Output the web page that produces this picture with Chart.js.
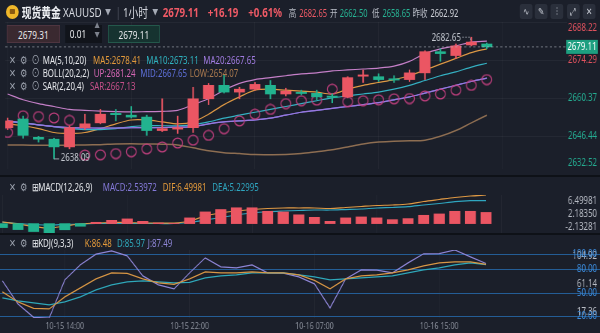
<!DOCTYPE html>
<html>
<head>
<meta charset="utf-8">
<script src="https://cdn.jsdelivr.net/npm/chart.js@4"></script>
<style>
html, body { margin: 0; padding: 0; background: #1b1f2a; width: 600px; height: 333px; overflow: hidden; }
#wrap { position: absolute; left: 0; top: 0; width: 800px; height: 333px; transform: scaleX(0.75); transform-origin: 0 0;
        font-family: "Noto Sans", "Noto Sans CJK SC", sans-serif; color: #c9ccd3; }
canvas { position: absolute; left: 0; }
.t { position: absolute; white-space: nowrap; line-height: 16px; }
.lg { position: absolute; white-space: nowrap; line-height: 14px; font-size: 10.5px; }
.ic { color: #9aa0ac; font-size: 11px; }
.sep { position: absolute; left: 0; width: 800px; height: 2px; background: #0e1117; }
.btn { position: absolute; top: 4px; width: 17px; height: 15px; background: #2a2f3b; border-radius: 3px;
       color: #c5c9d2; font-size: 10px; line-height: 15px; text-align: center; }
.box { position: absolute; top: 25px; height: 18px; line-height: 18px; font-size: 11px; color: #e6e7ea; box-sizing: border-box; }
</style>
</head>
<body>
<div id="wrap">
  <canvas id="main" width="800" height="176" style="top:0"></canvas>
  <canvas id="macd" width="800" height="58" style="top:176px"></canvas>
  <canvas id="kdj" width="800" height="99" style="top:234px"></canvas>
  <div class="sep" style="top:175px"></div>
  <div class="sep" style="top:233px"></div>

  <!-- header row -->
  <div style="position:absolute;left:8px;top:5px;width:17px;height:14px;border-radius:50%;background:#efb72a"></div>
  <div style="position:absolute;left:13px;top:9px;width:7px;height:5px;border-radius:1px;background:#8a5a10"></div>
  <span class="t" style="left:29px;top:4px;font-size:13px;font-weight:600;color:#eef0f4">现货黄金</span>
  <span class="t" style="left:84px;top:4px;font-size:13px;color:#d5d8df">XAUUSD</span>
  <span class="t" style="left:140px;top:4px;font-size:8px;color:#a5aab5">▼</span>
  <span class="t" style="left:154px;top:4px;font-size:13px;color:#4a4f5c">|</span>
  <span class="t" style="left:164px;top:4px;font-size:13px;color:#d5d8df">1小时</span>
  <span class="t" style="left:203px;top:4px;font-size:8px;color:#a5aab5">▼</span>
  <span class="t" style="left:217px;top:4px;font-size:13px;font-weight:700;color:#ef5a66">2679.11</span>
  <span class="t" style="left:277px;top:4px;font-size:13px;font-weight:700;color:#ef5a66">+16.19</span>
  <span class="t" style="left:331px;top:4px;font-size:13px;font-weight:700;color:#ef5a66">+0.61%</span>
  <span class="t" style="left:385px;top:5px;font-size:10px;color:#b8bcc6">高</span>
  <span class="t" style="left:399px;top:5px;font-size:10px;color:#ef5a66">2682.65</span>
  <span class="t" style="left:440px;top:5px;font-size:10px;color:#b8bcc6">开</span>
  <span class="t" style="left:453px;top:5px;font-size:10px;color:#27b494">2662.50</span>
  <span class="t" style="left:496px;top:5px;font-size:10px;color:#b8bcc6">低</span>
  <span class="t" style="left:510px;top:5px;font-size:10px;color:#27b494">2658.65</span>
  <span class="t" style="left:550px;top:5px;font-size:10px;color:#b8bcc6">昨收</span>
  <span class="t" style="left:574px;top:5px;font-size:10px;color:#d0d3da">2662.92</span>
  <div class="btn" style="left:693px">∿</div>
  <div class="btn" style="left:713px">✎</div>
  <div class="btn" style="left:734px">⫶</div>
  <div class="btn" style="left:756px">⤢</div>
  <div class="btn" style="left:777px">✕</div>

  <!-- order boxes -->
  <div class="box" style="left:9px;width:71px;background:#3a2930;border:1px solid #4e3540;text-align:center">2679.31</div>
  <div class="box" style="left:87px;width:49px;background:#11141b;padding-left:6px">0.01<span style="position:absolute;right:3px;top:-4px;font-size:7px;color:#7d828d;line-height:9px">▲<br>▼</span></div>
  <div class="box" style="left:144px;width:69px;background:#163330;border:1px solid #24584b;text-align:center">2679.11</div>

  <!-- main legends -->
  <span class="lg ic" style="left:12px;top:53px">✕</span><span class="lg ic" style="left:27px;top:53px">⚙</span><span class="lg ic" style="left:42px;top:53px">⊙</span>
  <span class="lg" style="left:57px;top:53px;color:#e4e6ea">MA(5,10,20)</span>
  <span class="lg" style="left:124px;top:53px;color:#e39a3b">MA5:2678.41</span>
  <span class="lg" style="left:195px;top:53px;color:#2fb3c0">MA10:2673.11</span>
  <span class="lg" style="left:271px;top:53px;color:#a07be0">MA20:2667.65</span>

  <span class="lg ic" style="left:12px;top:66px">✕</span><span class="lg ic" style="left:27px;top:66px">⚙</span><span class="lg ic" style="left:42px;top:66px">⊙</span>
  <span class="lg" style="left:57px;top:66px;color:#e4e6ea">BOLL(20,2,2)</span>
  <span class="lg" style="left:125px;top:66px;color:#d667b5">UP:2681.24</span>
  <span class="lg" style="left:187px;top:66px;color:#5d6fd8">MID:2667.65</span>
  <span class="lg" style="left:253px;top:66px;color:#a8784e">LOW:2654.07</span>

  <span class="lg ic" style="left:12px;top:79px">✕</span><span class="lg ic" style="left:27px;top:79px">⚙</span><span class="lg ic" style="left:42px;top:79px">⊙</span>
  <span class="lg" style="left:57px;top:79px;color:#e4e6ea">SAR(2,20,4)</span>
  <span class="lg" style="left:120px;top:79px;color:#c7508a">SAR:2667.13</span>

  <!-- MACD legend -->
  <span class="lg ic" style="left:12px;top:180px">✕</span><span class="lg ic" style="left:27px;top:180px">⚙</span>
  <span class="lg" style="left:42px;top:180px;color:#e4e6ea">⊞MACD(12,26,9)</span>
  <span class="lg" style="left:137px;top:180px;color:#8479d8">MACD:2.53972</span>
  <span class="lg" style="left:217px;top:180px;color:#e39a3b">DIF:6.49981</span>
  <span class="lg" style="left:283px;top:180px;color:#2fa6c0">DEA:5.22995</span>

  <!-- KDJ legend -->
  <span class="lg ic" style="left:12px;top:236px">✕</span><span class="lg ic" style="left:27px;top:236px">⚙</span>
  <span class="lg" style="left:42px;top:236px;color:#e4e6ea">⊞KDJ(9,3,3)</span>
  <span class="lg" style="left:113px;top:236px;color:#e39a3b">K:86.48</span>
  <span class="lg" style="left:156px;top:236px;color:#2fa8ba">D:85.97</span>
  <span class="lg" style="left:197px;top:236px;color:#8f86d8">J:87.49</span>
</div>

<script>
// hourly candles, 10-15 10:00 .. 10-16 18:00 (05:00 is the daily break)
const times = ['10-15 10:00','10-15 11:00','10-15 12:00','10-15 13:00','10-15 14:00','10-15 15:00','10-15 16:00','10-15 17:00',
               '10-15 18:00','10-15 19:00','10-15 20:00','10-15 21:00','10-15 22:00','10-15 23:00','10-16 00:00','10-16 01:00',
               '10-16 02:00','10-16 03:00','10-16 04:00','10-16 06:00','10-16 07:00','10-16 08:00','10-16 09:00','10-16 10:00',
               '10-16 11:00','10-16 12:00','10-16 13:00','10-16 14:00','10-16 15:00','10-16 16:00','10-16 17:00','10-16 18:00'];
const opens  = [2649.53,2652.70,2646.01,2645.31,2642.49,2649.53,2651.29,2654.64,2654.11,2653.41,2648.48,2649.00,2649.53,2660.10,2665.03,2662.56,
                2663.62,2665.03,2661.86,2662.50,2662.10,2660.98,2660.80,2668.37,2668.19,2667.31,2667.14,2669.60,2677.35,2675.94,2679.81,2680.17];
const highs  = [2653.05,2653.76,2646.36,2645.66,2650.24,2654.46,2656.22,2656.22,2657.28,2654.11,2660.10,2653.76,2664.32,2665.73,2668.90,2664.32,
                2666.08,2666.79,2663.97,2663.26,2663.26,2661.86,2668.19,2670.66,2669.25,2668.55,2670.66,2677.70,2678.41,2680.17,2682.65,2680.52];
const lows   = [2648.83,2645.66,2644.25,2638.09,2641.79,2648.83,2650.94,2652.00,2653.05,2646.72,2648.12,2647.42,2647.77,2657.98,2662.21,2660.10,
                2663.26,2660.10,2661.15,2661.50,2659.74,2658.65,2660.45,2666.08,2666.43,2666.08,2666.43,2667.14,2673.83,2674.88,2679.46,2678.41];
const closes = [2652.00,2646.72,2645.31,2642.49,2649.53,2650.94,2654.46,2654.29,2653.41,2648.48,2649.18,2649.53,2660.10,2665.03,2662.56,2663.62,
                2665.38,2661.86,2662.92,2662.03,2660.80,2660.62,2667.84,2668.72,2667.14,2666.96,2669.60,2677.35,2676.65,2679.46,2680.87,2679.11];
const prevClose = 2662.92;

const ma5  = [2650.94,2650.24,2649.18,2647.77,2647.42,2647.77,2649.18,2650.94,2652.35,2652.35,2651.65,2650.94,2651.65,2654.46,2657.98,2660.80,
              2663.26,2663.62,2663.26,2662.91,2662.56,2661.86,2663.62,2665.03,2666.08,2667.14,2668.55,2670.66,2672.77,2674.88,2677.00,2678.41];
const ma10 = [2651.65,2651.29,2650.59,2649.89,2649.18,2648.83,2648.83,2649.18,2649.89,2650.24,2650.24,2650.24,2650.59,2651.65,2653.05,2654.11,
              2655.17,2656.22,2657.28,2658.34,2659.39,2660.45,2661.15,2661.86,2662.56,2663.62,2665.03,2666.79,2668.55,2669.95,2671.72,2673.11];
// MA20 and the BOLL middle band are the same line (both 2667.65 at the end)
const ma20 = [2652.00,2651.29,2650.59,2649.89,2649.53,2649.45,2649.40,2649.42,2649.50,2649.55,2649.60,2649.70,2649.89,2650.94,2651.65,2652.00,
              2652.35,2653.05,2654.11,2655.17,2655.87,2656.58,2657.28,2657.98,2658.69,2659.74,2660.80,2662.21,2663.62,2665.03,2666.43,2667.65];
const bollMid = ma20;
const bollUp  = [2661.86,2659.74,2658.34,2657.28,2656.22,2655.87,2655.60,2655.40,2655.30,2655.40,2655.50,2655.87,2657.98,2660.10,2663.26,2665.73,
                 2667.14,2667.84,2668.55,2669.25,2669.60,2670.31,2670.66,2671.01,2671.36,2672.07,2673.83,2676.65,2678.41,2679.46,2680.87,2681.24];
const bollLow = [2643.20,2643.15,2643.10,2643.05,2643.10,2643.20,2643.30,2643.55,2643.60,2643.55,2643.45,2643.20,2642.14,2641.09,2640.38,2640.03,
                 2639.68,2639.65,2639.70,2640.03,2640.73,2641.44,2642.49,2643.55,2644.25,2644.60,2644.70,2644.96,2646.36,2648.48,2651.29,2654.07];
const sar = [2647.77,2653.90,2653.60,2653.10,2652.20,2639.50,2639.60,2640.03,2640.73,2641.79,2642.49,2643.90,2644.96,2646.72,2649.18,2652.00,
             2654.46,2656.22,2658.34,2659.39,2659.60,2663.62,2659.04,2659.39,2659.74,2660.10,2660.20,2661.15,2661.86,2663.26,2665.03,2667.13];

const macdHist = [-0.90,-1.36,-1.80,-2.13281,-1.40,-0.60,0.30,0.75,1.07,0.52,0.15,0.05,1.30,2.66,3.20,3.60,
                  3.60,2.80,2.65,2.00,1.43,0.52,1.30,1.52,1.30,0.90,1.14,1.89,2.20,2.80,2.80,2.53972];
const dif = [0.36,-0.09,-0.66,-1.00,-0.55,-0.09,0.14,0.25,0.25,0.14,0.14,0.14,0.59,1.73,2.41,2.86,
             3.20,3.43,3.55,3.55,3.55,3.43,3.66,3.89,4.11,4.23,4.45,5.02,5.48,5.93,6.27,6.49981];
const dea = [0.36,0.02,-0.20,-0.32,-0.20,-0.09,0.02,0.02,0.02,0.02,0.02,0.02,0.25,0.82,1.39,1.95,
             2.41,2.70,2.86,2.98,3.09,3.09,3.20,3.32,3.55,3.66,3.84,4.23,4.57,4.98,5.20,5.22995];

const kLine = [50.97,38.06,29.68,29.03,44.52,56.13,67.74,75.48,74.84,67.74,62.58,60.65,67.74,76.77,75.48,75.48,
               76.77,75.48,75.48,72.90,65.81,54.84,67.74,71.61,72.90,75.48,79.35,84.52,88.39,89.68,89.68,86.48];
const dLine = [43.23,39.35,36.77,34.19,38.06,44.52,53.55,60.00,63.87,65.16,63.87,62.58,63.23,69.03,71.61,72.90,
               75.48,75.48,75.48,72.90,70.32,66.45,67.74,69.03,70.32,71.61,75.48,79.35,81.94,85.81,88.39,85.97];
const jLine = [65.16,35.48,18.20,17.36,66.45,85.81,99.60,103.90,97.42,71.61,60.00,54.84,75.48,94.84,83.23,81.94,
               85.81,75.48,75.20,70.32,61.29,30.32,67.74,79.35,79.10,75.48,88.39,100.00,100.30,104.92,96.13,87.49];

const priceTicks = [2632.52, 2646.44, 2660.37, 2674.29, 2688.22];
const macdTicks  = [-2.13281, 2.18350, 6.49981];
const kdjTicks   = [17.36, 61.14, 104.92];
const kdjLevels  = [20, 50, 80, 100];
const xTickText  = ['10-15 14:00', '10-15 22:00', '10-16 07:00', '10-16 15:00'];

const RED = '#eb5663', GREEN = '#22b38f', GRID = 'rgba(255,255,255,0.045)';
Chart.defaults.font.family = '"Noto Sans", "Noto Sans CJK SC", sans-serif';

const idx = times.map((t, i) => i);
const xTickIdx = xTickText.map(t => times.indexOf(t));
const pts = arr => arr.map((v, i) => ({ x: i, y: v }));
const candleColor = idx.map(i => closes[i] >= opens[i] ? RED : GREEN);

function xScale(labels) {
    return {
        type: 'linear', min: -0.154, max: 36.19, offset: false,
        afterBuildTicks: s => { s.ticks = xTickIdx.map(v => ({ value: v })); },
        grid: { color: GRID, drawTicks: false }, border: { display: false },
        ticks: { display: labels, color: '#8b909c', font: { size: 9.5 }, padding: 3, maxRotation: 0, autoSkip: false,
                 callback: v => times[v] },
        afterFit: s => { s.height = labels ? 15 : 0; }
    };
}
function yScale(min, max, grids, gridColor) {
    return {
        position: 'right', min, max,
        afterBuildTicks: s => { s.ticks = grids.filter(v => v >= min && v <= max).map(v => ({ value: v })); },
        ticks: { display: false }, grid: { color: gridColor, drawTicks: false }, border: { display: false },
        afterFit: s => { s.width = 44; }
    };
}
function line(arr, color, width, tension) {
    return { type: 'line', data: pts(arr), borderColor: color, borderWidth: width || 1.2, pointRadius: 0,
             tension: tension === undefined ? 0.3 : tension, order: 5 };
}

// right-hand value labels, kept inside the panel like the trading app does
const axisText = {
    id: 'axisText',
    afterDraw(chart, args, o) {
        const { ctx, chartArea: a } = chart, y = chart.scales.y;
        ctx.save();
        ctx.font = '10.5px "Noto Sans", sans-serif';
        ctx.textAlign = 'right'; ctx.textBaseline = 'middle';
        o.items.forEach(it => {
            let py = y.getPixelForValue(it.v);
            if (it.clamp) py = Math.min(Math.max(py, a.top + 6), a.bottom - 6);
            ctx.fillStyle = it.color;
            ctx.fillText(it.text, chart.width - 4, py);
        });
        ctx.restore();
    }
};

const mainMarks = {
    id: 'mainMarks',
    afterDatasetsDraw(chart) {
        const { ctx, chartArea: a, scales: { x, y } } = chart;
        const py = y.getPixelForValue(closes[closes.length - 1]);
        ctx.save();
        ctx.strokeStyle = 'rgba(185,190,200,0.55)'; ctx.lineWidth = 1; ctx.setLineDash([3, 3]);
        ctx.beginPath(); ctx.moveTo(a.left, py); ctx.lineTo(a.right, py); ctx.stroke();
        // highest high / lowest low notes
        const hi = Math.max(...highs), hiI = highs.indexOf(hi);
        const lo = Math.min(...lows), loI = lows.indexOf(lo);
        const hx = x.getPixelForValue(hiI), hy = y.getPixelForValue(hi);
        const lx = x.getPixelForValue(loI), ly = y.getPixelForValue(lo);
        ctx.strokeStyle = '#9a9fa9'; ctx.setLineDash([2, 2]);
        ctx.beginPath(); ctx.moveTo(hx - 12, hy); ctx.lineTo(hx - 1, hy); ctx.lineTo(hx - 1, hy + 3); ctx.stroke();
        ctx.setLineDash([]);
        ctx.beginPath(); ctx.moveTo(lx, ly); ctx.lineTo(lx + 7, ly); ctx.stroke();
        ctx.font = '10.5px "Noto Sans", sans-serif'; ctx.fillStyle = '#c3c7cf'; ctx.textBaseline = 'middle';
        ctx.textAlign = 'right'; ctx.fillText(hi.toFixed(2), hx - 14, hy + 1);
        ctx.textAlign = 'left'; ctx.fillText(lo.toFixed(2), lx + 9, ly - 1);
        ctx.restore();
    },
    afterDraw(chart) {
        const { ctx, scales: { y } } = chart;
        const last = closes[closes.length - 1], py = y.getPixelForValue(last);
        ctx.save();
        ctx.fillStyle = '#1d9f80';
        ctx.fillRect(755, py - 7, 42, 14);
        ctx.fillStyle = '#ffffff'; ctx.font = '10.5px "Noto Sans", sans-serif';
        ctx.textAlign = 'center'; ctx.textBaseline = 'middle';
        ctx.fillText(last.toFixed(2), 776, py + 0.5);
        ctx.restore();
    }
};

const kdjLines = {
    id: 'kdjLines',
    beforeDatasetsDraw(chart) {
        const { ctx, scales: { y } } = chart;
        ctx.save();
        ctx.strokeStyle = '#245d96'; ctx.lineWidth = 1;
        kdjLevels.forEach(v => {
            const py = Math.round(y.getPixelForValue(v)) + 0.5;
            ctx.beginPath(); ctx.moveTo(0, py); ctx.lineTo(chart.width, py); ctx.stroke();
        });
        ctx.restore();
    }
};

// SAR ring, drawn wider than tall because the page is squeezed horizontally
const ring = document.createElement('canvas');
ring.width = 16; ring.height = 12;
const rc = ring.getContext('2d');
rc.strokeStyle = '#c2407f'; rc.lineWidth = 1.3;
rc.beginPath(); rc.ellipse(8, 6, 6.6, 4.8, 0, 0, Math.PI * 2); rc.stroke();

const base = { responsive: false, animation: false, events: [] };

new Chart(document.getElementById('main'), {
    type: 'bar',
    data: { datasets: [
        { data: idx.map(i => ({ x: i, y: [opens[i], closes[i]] })), backgroundColor: candleColor,
          barThickness: 14, minBarLength: 1.3, grouped: false, order: 1 },
        { data: idx.map(i => ({ x: i, y: [lows[i], highs[i]] })), backgroundColor: candleColor,
          barThickness: 1.4, grouped: false, order: 2 },
        line(bollUp, '#c680c9'),
        line(ma20, '#9b78dc'),
        line(bollMid, '#6a70e2'),
        line(bollLow, '#8e6e52', 1.5),
        line(ma10, '#35b2c4'),
        line(ma5, '#e09a45'),
        { type: 'line', data: pts(sar), showLine: false, pointStyle: ring, pointRadius: 6, order: 3 }
    ] },
    options: { ...base,
        layout: { padding: { top: 22, bottom: 1, left: 0, right: 0 } },
        plugins: { legend: { display: false }, tooltip: { enabled: false },
            axisText: { items: priceTicks.map(v => ({ v, text: v.toFixed(2), color: v > prevClose ? '#e0525e' : '#25ad92', clamp: true })) } },
        scales: { x: xScale(false), y: yScale(2634.4, 2688.22, priceTicks, GRID) }
    },
    plugins: [axisText, mainMarks]
});

new Chart(document.getElementById('macd'), {
    type: 'bar',
    data: { datasets: [
        { data: pts(macdHist), backgroundColor: macdHist.map(v => v >= 0 ? RED : GREEN), barThickness: 14, grouped: false, order: 2 },
        line(dif, '#e09a45', 1.2, 0.3),
        line(dea, '#2fa6c0', 1.2, 0.3)
    ] },
    options: { ...base,
        layout: { padding: { top: 19, bottom: 1, left: 0, right: 0 } },
        plugins: { legend: { display: false }, tooltip: { enabled: false },
            axisText: { items: macdTicks.map(v => ({ v, text: v.toFixed(5), color: '#b9bdc6', clamp: true })) } },
        scales: { x: xScale(false), y: yScale(-2.13281, 6.49981, macdTicks, 'rgba(0,0,0,0)') }
    },
    plugins: [axisText]
});

new Chart(document.getElementById('kdj'), {
    type: 'line',
    data: { datasets: [
        line(kLine, '#d99745', 1.2, 0),
        line(dLine, '#2fa8ba', 1.2, 0),
        line(jLine, '#8f86d8', 1.2, 0)
    ] },
    options: { ...base,
        layout: { padding: { top: 16, bottom: 0, left: 0, right: 0 } },
        plugins: { legend: { display: false }, tooltip: { enabled: false },
            axisText: { items: kdjTicks.map(v => ({ v, text: v.toFixed(2), color: '#b9bdc6', clamp: true }))
                .concat(kdjLevels.map(v => ({ v, text: v.toFixed(2), color: '#3d8ee0', clamp: false }))) } },
        scales: { x: xScale(true), y: yScale(17.36, 104.92, [], 'rgba(0,0,0,0)') }
    },
    plugins: [kdjLines, axisText]
});
</script>
</body>
</html>
